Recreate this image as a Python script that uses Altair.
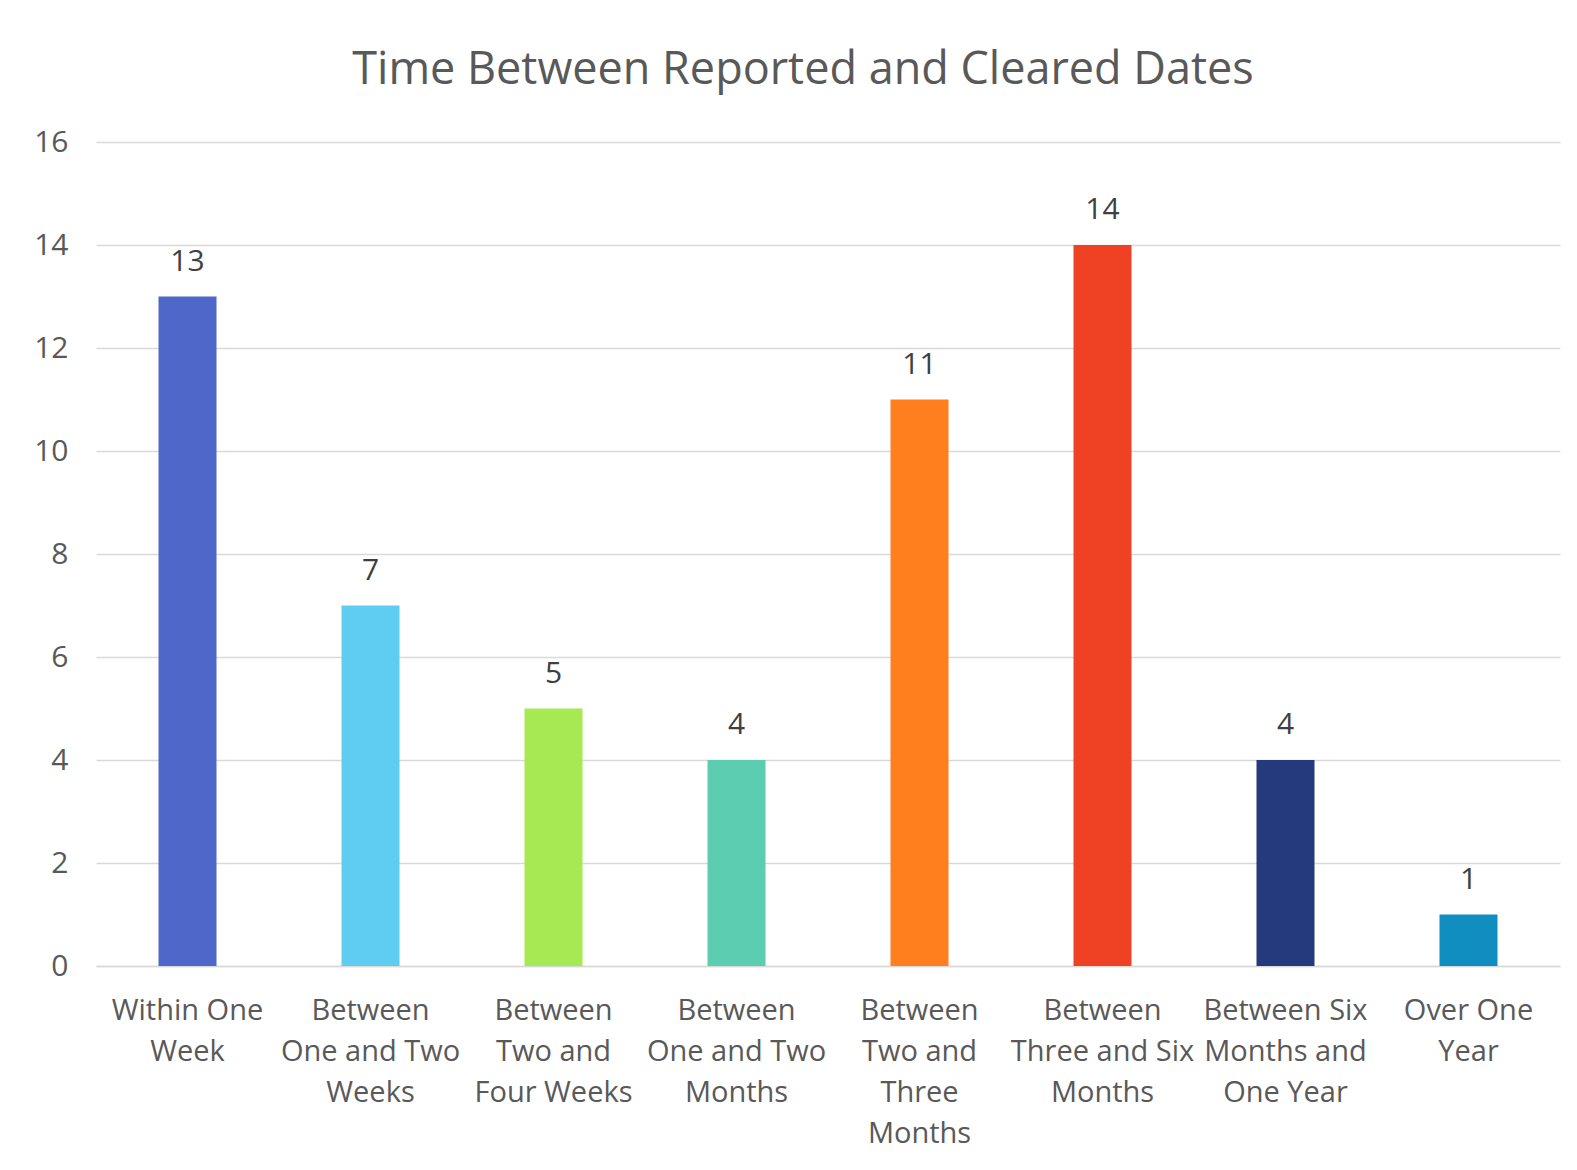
import altair as alt
import pandas as pd

categories = [
    "Within One\nWeek",
    "Between\nOne and Two\nWeeks",
    "Between\nTwo and\nFour Weeks",
    "Between\nOne and Two\nMonths",
    "Between\nTwo and\nThree\nMonths",
    "Between\nThree and Six\nMonths",
    "Between Six\nMonths and\nOne Year",
    "Over One\nYear",
]
values = [13, 7, 5, 4, 11, 14, 4, 1]
colors = ["#4F67C8", "#5FCDF2", "#A7E952", "#5CCDB0", "#FF7F1F", "#EF4123", "#243A7C", "#0F8EBF"]
y_ticks = [0, 2, 4, 6, 8, 10, 12, 14, 16]

df = pd.DataFrame({"category": categories, "value": values, "color": colors})

FONT = "Open Sans"

base = alt.Chart(df).encode(
    x=alt.X(
        "category:N",
        sort=categories,
        scale=alt.Scale(paddingInner=0.683, paddingOuter=0.3415),
        axis=alt.Axis(
            title=None,
            labelAngle=0,
            labelExpr="split(datum.label, '\\n')",
            labelFont=FONT,
            labelFontSize=29,
            labelColor="#595959",
            labelLineHeight=41,
            labelPadding=30,
            labelBaseline="top",
            ticks=False,
            grid=False,
            domainColor="#d9d9d9",
            domainWidth=1.5,
            labelLimit=300,
        ),
    ),
    y=alt.Y(
        "value:Q",
        scale=alt.Scale(domain=[0, 16], nice=False),
        axis=alt.Axis(
            title=None,
            values=y_ticks,
            labelFont=FONT,
            labelFontSize=30,
            labelColor="#595959",
            labelPadding=28,
            ticks=False,
            domain=False,
            gridColor="#d9d9d9",
            gridWidth=1.5,
        ),
    ),
)

bars = base.mark_bar().encode(color=alt.Color("color:N", scale=None))
labels = base.mark_text(
    baseline="alphabetic", dy=-26, font=FONT, fontSize=30, color="#404040"
).encode(text="value:Q")

chart = (
    (bars + labels)
    .properties(
        width=1464,
        height=824,
        padding={"left": 88, "top": 134, "right": 9, "bottom": 196},
        autosize=alt.AutoSizeParams(type="none"),
        background="white",
        title=alt.TitleParams(
            "Time Between Reported and Cleared Dates",
            font=FONT,
            fontSize=45,
            fontWeight="normal",
            color="#595959",
            anchor="middle",
            frame="group",
            dx=-25,
            dy=8,
            offset=6,
            baseline="alphabetic",
        ),
    )
    .configure_view(strokeWidth=0, stroke="transparent")
)

chart.save("out.html", embed_options={"renderer": "svg", "actions": False})
